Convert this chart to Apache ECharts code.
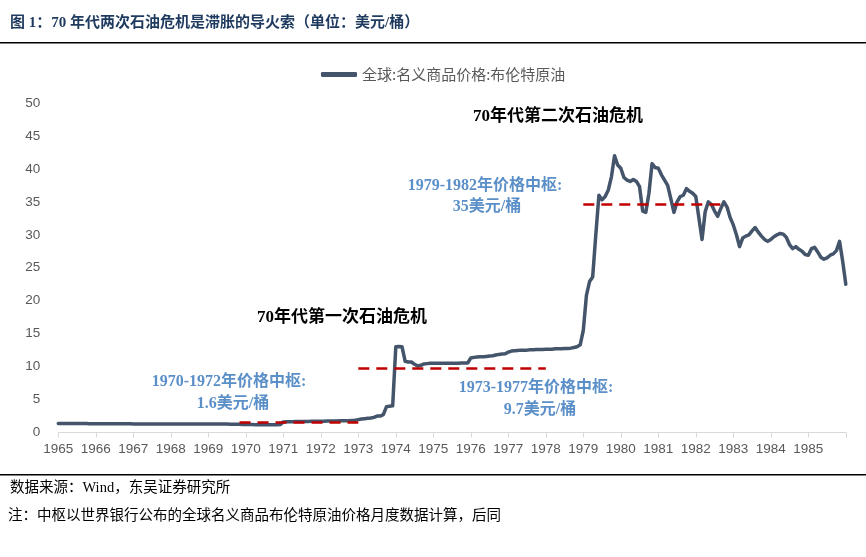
<!DOCTYPE html>
<html>
<head>
<meta charset="utf-8">
<script src="https://cdn.jsdelivr.net/npm/echarts@6/dist/echarts.min.js"></script>
<style>
html,body{margin:0;padding:0;background:#fff;}
#chart{width:866px;height:557px;}
</style>
</head>
<body>
<div id="chart"></div>
<script>
// ---- data (monthly, USD/bbl) ----
const years = [1965,1966,1967,1968,1969,1970,1971,1972,1973,1974,1975,1976,1977,1978,1979,1980,1981,1982,1983,1984,1985];
const p1965 = [1.35,1.35,1.35,1.35,1.35,1.35,1.35,1.35,1.35,1.35,1.34,1.34];
const p1966 = [1.32,1.32,1.32,1.32,1.31,1.31,1.31,1.31,1.31,1.31,1.31,1.31];
const p1967 = [1.3,1.3,1.3,1.3,1.3,1.3,1.3,1.3,1.3,1.3,1.3,1.3];
const p1968 = [1.29,1.29,1.29,1.29,1.29,1.29,1.29,1.29,1.29,1.29,1.29,1.29];
const p1969 = [1.28,1.28,1.28,1.28,1.28,1.28,1.28,1.27,1.26,1.25,1.24,1.22];
const p1970 = [1.2,1.2,1.2,1.19,1.19,1.19,1.19,1.19,1.19,1.19,1.19,1.2];
const p1971 = [1.6,1.62,1.64,1.65,1.66,1.66,1.67,1.68,1.68,1.69,1.7,1.7];
const p1972 = [1.71,1.72,1.73,1.74,1.75,1.76,1.77,1.78,1.79,1.8,1.82,1.85];
const p1973 = [1.95,2.05,2.1,2.15,2.2,2.3,2.5,2.5,2.7,3.9,4.0,4.05];
const p1974 = [13.0,13.05,13.0,10.8,10.7,10.7,10.35,10.1,10.2,10.4,10.45,10.5];
const p1975 = [10.5,10.5,10.5,10.5,10.5,10.5,10.5,10.5,10.5,10.55,10.55,10.55];
const p1976 = [11.3,11.4,11.45,11.5,11.5,11.55,11.6,11.65,11.75,11.85,11.9,11.95];
const p1977 = [12.2,12.35,12.4,12.45,12.5,12.5,12.5,12.55,12.55,12.6,12.6,12.6];
const p1978 = [12.65,12.65,12.65,12.7,12.7,12.7,12.75,12.75,12.8,12.9,13.0,13.3];
const p1979 = [15.5,20.8,22.9,23.6,30.0,36.0,35.3,35.8,36.8,38.8,42.0,40.6];
const p1980 = [40.1,38.7,38.3,38.1,38.4,38.1,37.3,33.6,33.4,36.3,40.8,40.2];
const p1981 = [40.1,39.1,38.3,37.5,35.5,33.4,35.0,35.8,36.0,37.0,36.6,36.3];
const p1982 = [35.8,32.5,29.3,33.5,35.0,34.6,33.6,32.8,34.0,35.0,34.2,32.6];
const p1983 = [31.5,30.0,28.2,29.5,29.8,30.0,30.6,31.1,30.4,29.8,29.3,29.0];
const p1984 = [29.3,29.7,30.0,30.2,30.1,29.6,28.5,27.9,28.2,27.8,27.5,27.0];
const p1985 = [26.9,27.9,28.1,27.4,26.6,26.3,26.5,26.9,27.1,27.6,29.0,26.0];
const p1986 = [22.5];

// price-centre segments (start month, end month, level)
const centreStart = ['1969-11','1973-01','1979-01'];
const centreEnd   = ['1973-01','1978-01','1982-09'];
const centreLevel = [1.6, 9.7, 34.6];

const yTicks = {min:0, max:50, interval:5};

// ---- build categories & series ----
const monthly = [p1965,p1966,p1967,p1968,p1969,p1970,p1971,p1972,p1973,p1974,p1975,p1976,p1977,p1978,p1979,p1980,p1981,p1982,p1983,p1984,p1985,p1986];
const cats = [];
const vals = [];
monthly.forEach(function(arr, yi){
  const yr = 1965 + yi;
  arr.forEach(function(v, m){
    cats.push(yr + '-' + String(m+1).padStart(2,'0'));
    vals.push(v);
  });
});

const markData = centreLevel.map(function(lv, i){
  return [{coord:[centreStart[i], lv]}, {coord:[centreEnd[i], lv]}];
});

const serif = '"Liberation Serif","Noto Sans CJK SC",serif';
const blue = '#5b8fc8';

const chart = echarts.init(document.getElementById('chart'));
chart.setOption({
  animation:false,
  backgroundColor:'#fff',
  grid:{left:58.3, right:20.2, top:103, bottom:124.5},
  legend:{
    data:['全球:名义商品价格:布伦特原油'],
    left:316, top:62,
    icon:'roundRect', itemWidth:36, itemHeight:5, itemGap:5,
    textStyle:{color:'#595959', fontSize:15, fontFamily:'"Noto Sans CJK SC",sans-serif'}
  },
  xAxis:{
    type:'category', data:cats, boundaryGap:false,
    axisLine:{lineStyle:{color:'#d9d9d9', width:1}},
    axisTick:{show:true, length:5, lineStyle:{color:'#d9d9d9'},
      interval:function(i){return i % 12 === 0;}},
    axisLabel:{
      interval:function(i){return i % 12 === 0 && i < 252;},
      formatter:function(v){return v.slice(0,4);},
      color:'#595959', fontSize:13.5, margin:10,
      fontFamily:'"Liberation Sans",Arial,sans-serif'
    },
    splitLine:{show:false}
  },
  yAxis:{
    type:'value', min:yTicks.min, max:yTicks.max, interval:yTicks.interval,
    axisLine:{show:false}, axisTick:{show:false}, splitLine:{show:false},
    axisLabel:{color:'#595959', fontSize:13.5, margin:18,
      fontFamily:'"Liberation Sans",Arial,sans-serif'}
  },
  series:[{
    name:'全球:名义商品价格:布伦特原油',
    type:'line', data:vals, showSymbol:false, symbol:'none',
    lineStyle:{color:'#44546a', width:3.5, cap:'round', join:'round'},
    itemStyle:{color:'#44546a'},
    markLine:{
      silent:true, symbol:['none','none'],
      label:{show:false},
      lineStyle:{color:'#c00000', width:2.5, type:[11,7]},
      data:markData
    }
  }],
  graphic:[
    {type:'text', left:10, top:16, style:{text:'图 1：70 年代两次石油危机是滞胀的导火索（单位：美元/桶）', fill:'#1f3a5f', font:'bold 15px "Liberation Serif","Noto Sans CJK SC",serif'}},
    {type:'rect', shape:{x:0, y:42, width:866, height:1.5}, style:{fill:'#000'}},
    {type:'rect', shape:{x:0, y:474, width:866, height:1.5}, style:{fill:'#000'}},
    {type:'text', left:10, top:481, style:{text:'数据来源：Wind，东吴证券研究所', fill:'#000', font:'14.5px "Liberation Serif","Noto Sans CJK SC",serif'}},
    {type:'text', left:8, top:509, style:{text:'注：中枢以世界银行公布的全球名义商品布伦特原油价格月度数据计算，后同', fill:'#000', font:'14.5px "Liberation Serif","Noto Sans CJK SC",serif'}},
    {type:'text', x:558, y:117, style:{text:'70年代第二次石油危机', fill:'#000', align:'center', verticalAlign:'middle', font:'bold 17px '+serif}},
    {type:'text', x:342, y:318, style:{text:'70年代第一次石油危机', fill:'#000', align:'center', verticalAlign:'middle', font:'bold 17px '+serif}},
    {type:'text', x:485, y:186, style:{text:'1979-1982年价格中枢:', fill:blue, align:'center', verticalAlign:'middle', font:'bold 16px '+serif}},
    {type:'text', x:487, y:207, style:{text:'35美元/桶', fill:blue, align:'center', verticalAlign:'middle', font:'bold 16px '+serif}},
    {type:'text', x:229, y:382, style:{text:'1970-1972年价格中枢:', fill:blue, align:'center', verticalAlign:'middle', font:'bold 16px '+serif}},
    {type:'text', x:233, y:404, style:{text:'1.6美元/桶', fill:blue, align:'center', verticalAlign:'middle', font:'bold 16px '+serif}},
    {type:'text', x:536, y:388, style:{text:'1973-1977年价格中枢:', fill:blue, align:'center', verticalAlign:'middle', font:'bold 16px '+serif}},
    {type:'text', x:540, y:410, style:{text:'9.7美元/桶', fill:blue, align:'center', verticalAlign:'middle', font:'bold 16px '+serif}}
  ]
});
</script>
</body>
</html>
